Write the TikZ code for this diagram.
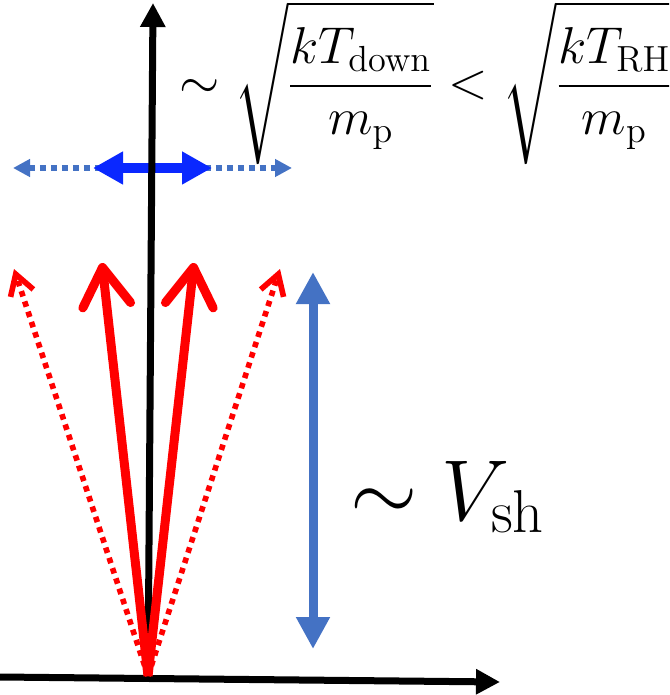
\RequirePackage{fix-cm}
\documentclass[tikz,border=0pt]{standalone}
\usepackage{amsmath}
\usetikzlibrary{arrows.meta,positioning}

\definecolor{shockblue}{RGB}{68,114,196}
\definecolor{brightblue}{RGB}{10,40,255}

\begin{document}
\begin{tikzpicture}[x=0.5pt, y=-0.5pt,
    axis/.style={line width=3.5pt, -{Triangle[length=12pt,width=12pt]}},
    flow/.style={red, line width=4.5pt, -{Straight Barb[length=19pt,width=24pt,round]}},
    flowdot/.style={red, line width=2.8pt, dash pattern=on 2.8pt off 2.6pt, -{Straight Barb[length=10pt,width=12pt]}},
    spread/.style={brightblue, line width=4.8pt, {Triangle[length=15pt,width=15.5pt]}-{Triangle[length=15pt,width=15.5pt]}},
    spreaddot/.style={shockblue, line width=3pt, dash pattern=on 3pt off 2.5pt, {Triangle[length=8.5pt,width=8.5pt]}-{Triangle[length=8.5pt,width=8.5pt]}},
    speed/.style={shockblue, line width=4.5pt, {Triangle[length=16pt,width=16pt]}-{Triangle[length=16pt,width=16pt]}},
    label/.style={inner sep=0pt, anchor=base west}
]
\useasboundingbox (0,0) rectangle (669,695);
\clip (0,0) rectangle (669,695);

% Coordinates
\coordinate (O)     at (148,676);
\coordinate (xbeg)  at (0,677);
\coordinate (xend)  at (500,682);
\coordinate (ybeg)  at (148,680);
\coordinate (yend)  at (153,3);
\coordinate (vl)    at (102,263);
\coordinate (vr)    at (194,263);
\coordinate (vdl)   at (14,269);
\coordinate (vdr)   at (280,269);
\coordinate (tdl)   at (13,168);
\coordinate (tdr)   at (292,168);
\coordinate (tl)    at (93,168);
\coordinate (tr)    at (212,168);
\coordinate (shtop) at (313,272);
\coordinate (shbot) at (313,649);

% Labels
\node[label] (thermal) at (179,99)
  {\scalebox{1.08}{\fontsize{24}{28}\selectfont $\displaystyle \sim\sqrt{\frac{kT_{\rm down}}{m_{\rm p}}} < \sqrt{\frac{kT_{\rm RH}}{m_{\rm p}}}$}};
\node[label] (vsh) at (350,520) {\scalebox{1.31}{\fontsize{33}{38}\selectfont $\sim V_{\rm sh}$}};

% Arrows
\draw[spreaddot] (tdl) -- (tdr);
\draw[spread]    (tl) -- (tr);
\draw[speed]     (shtop) -- (shbot);
\draw[axis]      (xbeg) -- (xend);
\draw[axis]      (ybeg) -- (yend);
\draw[flowdot]   (O) -- (vdl);
\draw[flowdot]   (O) -- (vdr);
\draw[flow]      (O) -- (vl);
\draw[flow]      (O) -- (vr);

\end{tikzpicture}
\end{document}
